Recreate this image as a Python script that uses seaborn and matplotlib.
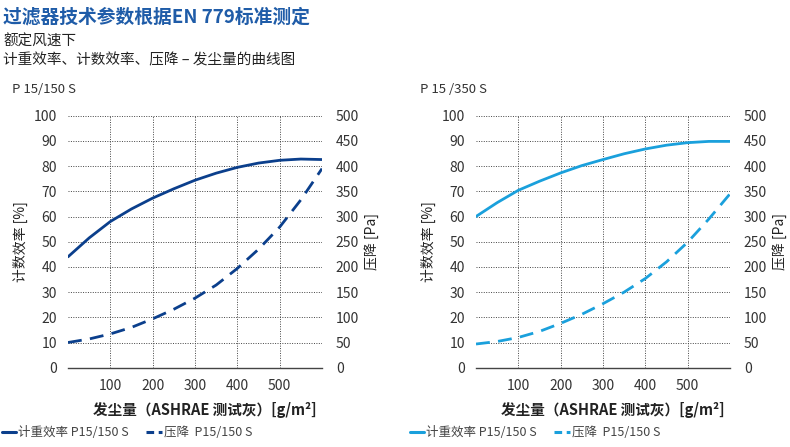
import numpy as np
import pandas as pd
import seaborn as sns
import matplotlib.pyplot as plt

# 发尘量 (g/m2)
dust = [0, 50, 100, 150, 200, 250, 300, 350, 400, 450, 500, 550, 600]

# P 15/150 S
eff_150 = [44, 51.5, 58, 63, 67.3, 71, 74.4, 77.2, 79.5, 81.2, 82.3, 82.8, 82.6]
dp_150 = [50, 57, 67, 80, 97, 116, 138, 164, 197, 235, 279, 333, 395]

# P 15/350 S
eff_350 = [60, 65.5, 70.4, 74, 77.3, 80.2, 82.6, 84.9, 86.8, 88.3, 89.3, 89.8, 89.8]
dp_350 = [47, 52, 60, 72, 88, 106, 127, 150, 177, 210, 249, 295, 345]

titles = ['P 15/150 S', 'P 15 /350 S']
colors = ['#0b3f8c', '#1aa0dc']

sns.set_theme(style='white')
plt.rcParams['font.family'] = ['Noto Sans CJK SC', 'DejaVu Sans']

fig = plt.figure(figsize=(7.9, 4.47), dpi=100)
W, H = 790, 447

def add_ax(x0, x1, y0, y1):
    return fig.add_axes([x0 / W, 1 - y1 / H, (x1 - x0) / W, (y1 - y0) / H])

panels = [
    (68, 322, eff_150, dp_150, titles[0], colors[0]),
    (476, 730, eff_350, dp_350, titles[1], colors[1]),
]

for x0, x1, eff, dp, title, col in panels:
    ax = add_ax(x0, x1, 115.7, 367.7)
    df = pd.DataFrame({'dust': dust, 'eff': eff, 'dp': dp})
    sns.lineplot(data=df, x='dust', y='eff', ax=ax, color=col, linewidth=2.0)
    ax.set_xlim(0, 600)
    ax.set_ylim(0, 100)
    ax.set_xticks([100, 200, 300, 400, 500])
    ax.set_yticks(np.arange(0, 101, 10))
    ax.grid(True, linestyle=(0, (1, 1.5)), color='#444444', linewidth=0.7)
    ax.set_axisbelow(True)
    for s in ['top', 'right', 'left']:
        ax.spines[s].set_visible(False)
    ax.spines['bottom'].set_color('#444444')
    ax.spines['bottom'].set_linewidth(1.0)
    ax.tick_params(axis='both', length=0, labelsize=10, colors='#333333', pad=8)
    ax.set_xlabel('')
    ax.set_ylabel('计数效率 [%]', fontsize=10, color='#222222', labelpad=4)

    ax2 = ax.twinx()
    sns.lineplot(data=df, x='dust', y='dp', ax=ax2, color=col, linewidth=2.0,
                 linestyle=(0, (5, 3)))
    ax2.set_ylim(0, 500)
    ax2.set_yticks(np.arange(0, 501, 50))
    for s in ['top', 'right', 'left', 'bottom']:
        ax2.spines[s].set_visible(False)
    ax2.tick_params(axis='y', length=0, labelsize=10, colors='#333333', pad=10)
    ax2.set_ylabel('压降 [Pa]', fontsize=10, color='#222222', labelpad=4)

    cx = (x0 + 137) / W
    fig.text(cx, 1 - 410 / H, '发尘量（ASHRAE 测试灰）[g/m²]', ha='center', va='center',
             fontsize=10.5, fontweight='bold', color='#222222')
    fig.text((x0 - 56) / W, 1 - 90 / H, title, ha='left', va='center',
             fontsize=9.5, color='#333333')

    # legend
    lx = (x0 - 66) / W
    ly = 1 - 432 / H
    fig.lines.append(plt.Line2D([lx, lx + 14 / W], [ly, ly], transform=fig.transFigure,
                                color=col, linewidth=2.2))
    fig.text(lx + 16 / W, ly, '计重效率 P15/150 S', ha='left', va='center',
             fontsize=9, color='#444444')
    lx2 = lx + 144 / W
    fig.lines.append(plt.Line2D([lx2, lx2 + 16 / W], [ly, ly], transform=fig.transFigure,
                                color=col, linewidth=2.2, linestyle=(0, (2.5, 1.5))))
    fig.text(lx2 + 18 / W, ly, '压降  P15/150 S', ha='left', va='center',
             fontsize=9, color='#444444')

fig.text(3 / W, 1 - 17 / H, '过滤器技术参数根据EN 779标准测定', ha='left', va='center',
         fontsize=13.5, fontweight='bold', color='#1f5ca8')
fig.text(3 / W, 1 - 42 / H, '额定风速下', ha='left', va='center', fontsize=10.5, color='#222222')
fig.text(3 / W, 1 - 60 / H, '计重效率、计数效率、压降 – 发尘量的曲线图', ha='left', va='center',
         fontsize=10.5, color='#222222')

fig.savefig('out.png', dpi=100, facecolor='white')
